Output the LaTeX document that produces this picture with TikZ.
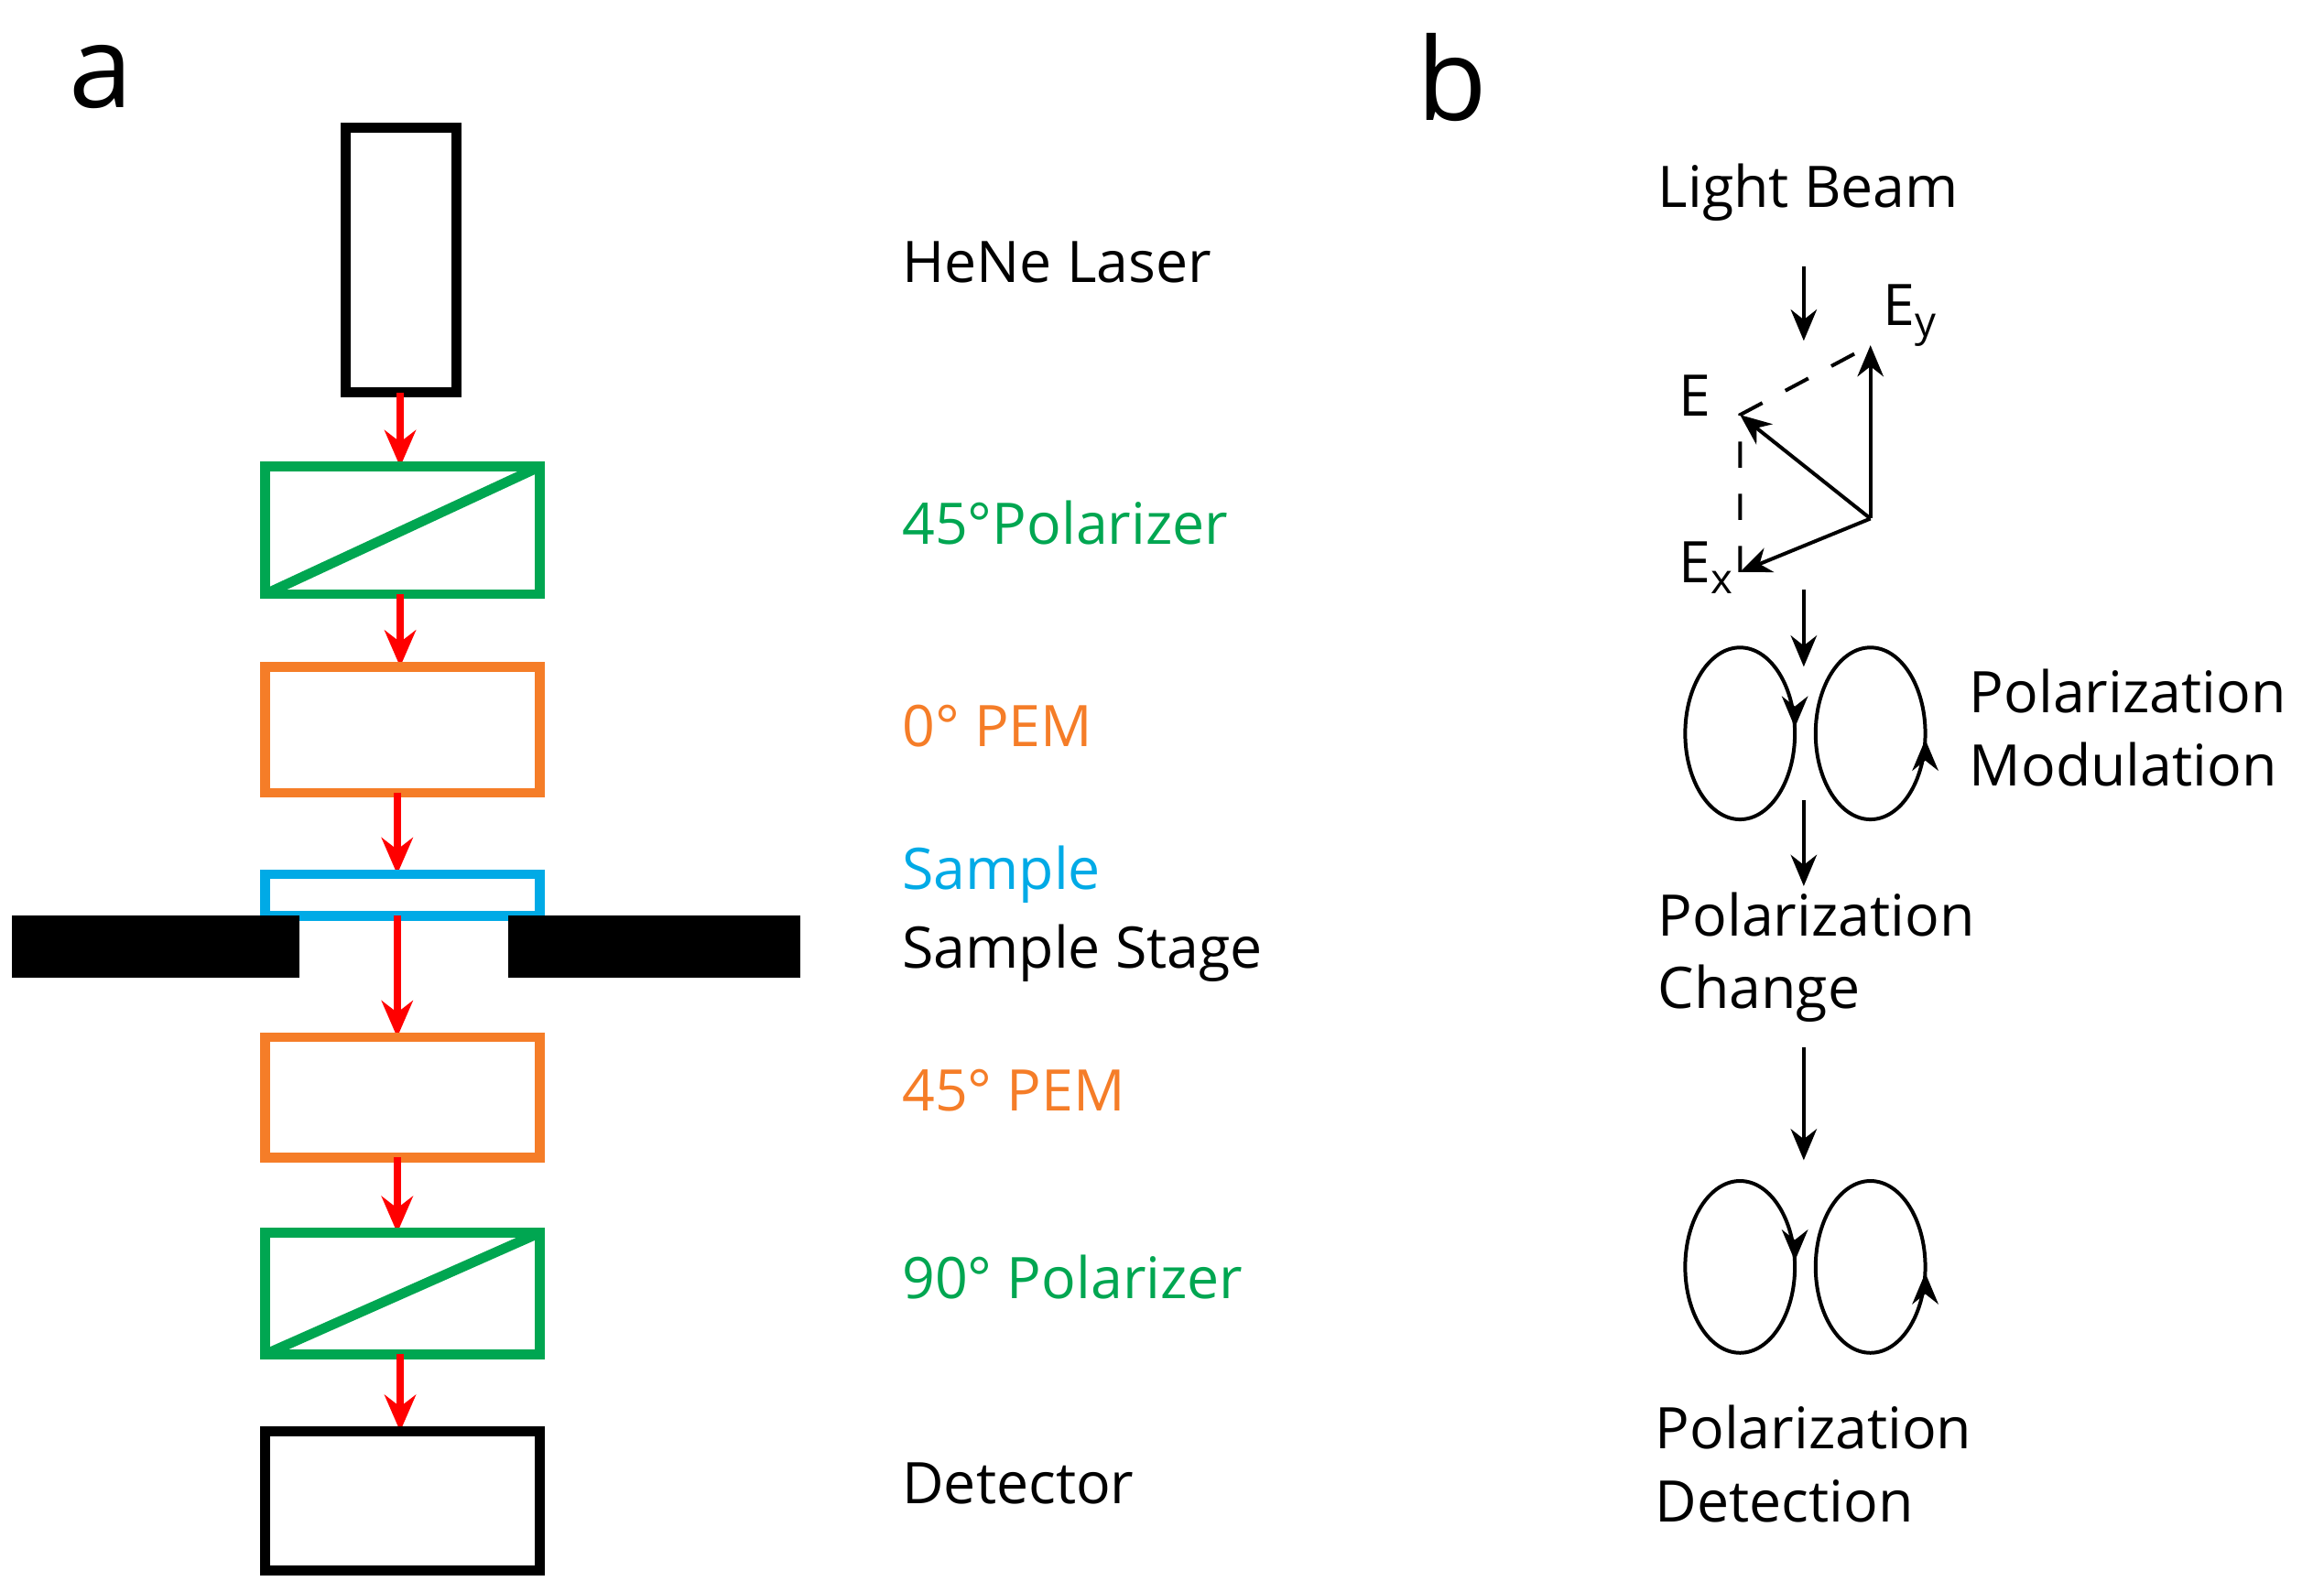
\documentclass[tikz,border=0pt]{standalone}
\usepackage{fontspec}
\setmainfont{Open Sans}
\usetikzlibrary{arrows.meta}
\definecolor{gr}{RGB}{0,166,81}
\definecolor{orn}{RGB}{245,125,40}
\definecolor{cy}{RGB}{0,170,230}
\begin{document}
\begin{tikzpicture}[x=0.01cm,y=-0.01cm,
 box/.style={line width=1.9pt},
 ra/.style={red,line width=1.5pt,-{Stealth[length=7pt,width=6pt]}},
 ba/.style={black,line width=0.7pt,-{Stealth[length=6pt,width=5pt]}},
 lab/.style={anchor=west,font=\fontsize{11pt}{14pt}\selectfont,inner sep=0pt,align=left},
 big/.style={font=\fontsize{22pt}{24pt}\selectfont,inner sep=0pt}]
\useasboundingbox (0,0) rectangle (1568,1074);
\node[big] (la) at (68,52) {a};
\node[big] (lb) at (980,52) {b};
% left column
\draw[box] (233,86) rectangle (308,265);
\coordinate (c1) at (270,265); \coordinate (c2) at (270,315);
\draw[ra] (c1) -- (c2);
\draw[box,gr] (179,315) rectangle (364,401); \draw[box,gr] (179,401) -- (364,315);
\coordinate (c3) at (270,401); \coordinate (c4) at (270,450);
\draw[ra] (c3) -- (c4);
\draw[box,orn] (179,450) rectangle (364,535);
\coordinate (c5) at (268,535); \coordinate (c6) at (268,590);
\draw[ra] (c5) -- (c6);
\draw[box,cy] (179,618) -- (179,590) -- (364,590) -- (364,618) -- cycle;
\fill (8,618) rectangle (202,660);
\fill (343,618) rectangle (540,660);
\coordinate (c7) at (268,618); \coordinate (c8) at (268,700);
\draw[ra] (c7) -- (c8);
\draw[box,orn] (179,700) rectangle (364,781);
\coordinate (c9) at (268,781); \coordinate (c10) at (268,832);
\draw[ra] (c9) -- (c10);
\draw[box,gr] (179,832) rectangle (364,914); \draw[box,gr] (179,914) -- (364,832);
\coordinate (c11) at (270,914); \coordinate (c12) at (270,966);
\draw[ra] (c11) -- (c12);
\draw[box] (179,966) rectangle (364,1060);
\node[lab] (t1) at (608,177) {HeNe Laser};
\node[lab,text=gr] (t2) at (608,353) {45°Polarizer};
\node[lab,text=orn] (t3) at (608,490) {0° PEM};
\node[lab,text=cy] (t4) at (608,590) {Sample};
\node[lab] (t5) at (608,643) {Sample Stage};
\node[lab,text=orn] (t6) at (608,736) {45° PEM};
\node[lab,text=gr] (t7) at (608,862) {90° Polarizer};
\node[lab] (t8) at (608,1001) {Detector};
% right column
\node[lab] (r1) at (1118,130) {Light Beam};
\draw[ba] (1217,180) -- (1217,230);
\coordinate (O) at (1262,350); \coordinate (Ey) at (1262,233);
\coordinate (E) at (1174,280); \coordinate (Ex) at (1174,386);
\draw[black,line width=0.7pt,dash pattern=on 5pt off 5pt] (Ex) -- (E) -- (Ey);
\draw[ba] (O) -- (Ey); \draw[ba] (O) -- (E); \draw[ba] (O) -- (Ex);
\node[lab] (lE) at (1132,267) {E};
\node[lab] (lEy) at (1270,213) {E\raisebox{-0.35ex}{\fontsize{8pt}{9pt}\selectfont y}};
\node[lab] (lEx) at (1132,383) {E\raisebox{-0.35ex}{\fontsize{8pt}{9pt}\selectfont x}};
\draw[ba] (1217,398) -- (1217,450);
\foreach \yy in {495,855}{
 \draw[line width=0.7pt] (1174,\yy) ellipse (37 and 58);
 \draw[line width=0.7pt] (1262,\yy) ellipse (37 and 58);
 \draw[ba] (1211,\yy-14) -- (1211,\yy-4);
 \draw[ba] (1299,\yy+14) -- (1299,\yy+4);
}
\node[lab] (r2) at (1328,491) {Polarization\\Modulation};
\draw[ba] (1217,540) -- (1217,598);
\node[lab] (r3) at (1118,646) {Polarization\\Change};
\draw[ba] (1217,707) -- (1217,783);
\node[lab] (r4) at (1116,988) {Polarization\\Detection};
\end{tikzpicture}
\end{document}
